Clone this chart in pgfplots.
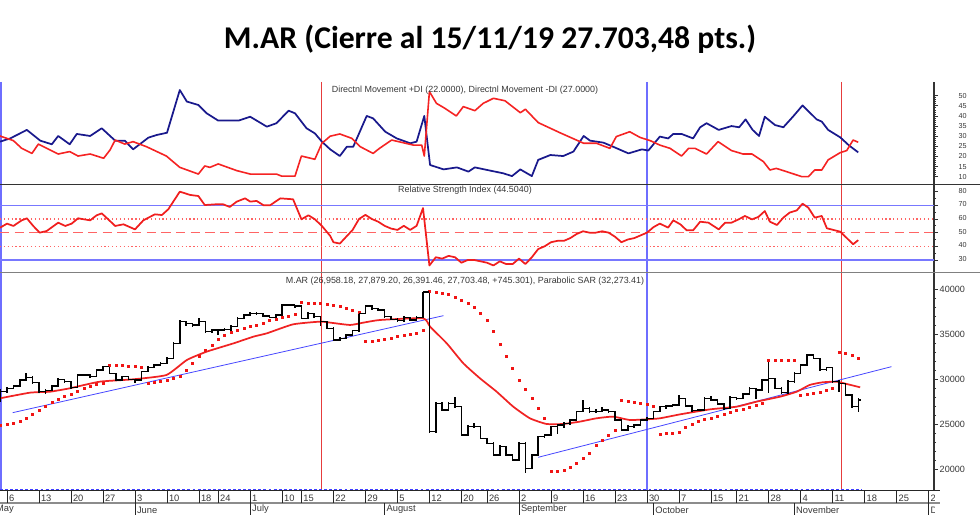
\documentclass[border=0pt]{standalone}
\usepackage{fontspec}
\setmainfont{Liberation Sans}
\newfontfamily\titlefont{Carlito}
\usepackage{pgfplots}
\usepackage{pgfplotstable}
\pgfplotsset{compat=1.18}

\definecolor{diplus}{RGB}{25,25,140}
\definecolor{diminus}{RGB}{245,35,35}
\definecolor{rsired}{RGB}{240,30,30}
\definecolor{refblue}{RGB}{120,120,255}
\definecolor{refred}{RGB}{255,100,100}
\definecolor{trendblue}{RGB}{70,70,255}
\definecolor{cycred}{RGB}{230,60,60}
\definecolor{cycblue}{RGB}{110,110,255}
\definecolor{labgray}{RGB}{55,55,55}
\definecolor{sarred}{RGB}{240,20,20}
\definecolor{marred}{RGB}{240,35,35}

\pgfdeclareplotmark{lt}{\pgfpathmoveto{\pgfqpoint{-2.4pt}{0pt}}\pgfpathlineto{\pgfqpoint{0pt}{0pt}}\pgfusepathqstroke}
\pgfdeclareplotmark{rt}{\pgfpathmoveto{\pgfqpoint{0pt}{0pt}}\pgfpathlineto{\pgfqpoint{2.4pt}{0pt}}\pgfusepathqstroke}

\pgfplotstableread{
i v
-1.1 27.3
0.5 28.9
3.1 33.1
5.2 27.8
7.0 26.0
8.0 30.1
9.8 26.0
10.9 31.1
13.0 30.1
14.8 33.9
16.9 27.8
18.4 27.8
19.7 23.5
22.1 29.3
23.4 30.6
25.0 31.7
27.0 52.8
28.1 47.1
29.9 45.4
31.2 41.3
33.0 37.7
36.2 37.7
38.0 39.6
40.6 34.7
42.1 36.4
44.0 42.6
45.0 41.3
46.8 33.9
48.1 31.4
49.2 27.3
50.5 23.5
52.0 20.2
53.1 24.8
54.1 24.8
56.2 40.0
57.2 38.8
59.1 32.2
60.9 28.9
63.0 26.5
64.0 27.3
65.2 40.0
66.1 15.8
68.2 13.6
70.3 14.6
72.1 12.5
73.1 14.6
75.5 13.0
77.5 11.7
78.9 10.3
80.2 13.6
82.0 10.3
83.0 18.3
84.9 20.7
86.9 20.2
88.5 22.4
90.1 30.1
91.1 27.8
93.2 26.8
94.7 24.8
97.1 21.5
99.2 23.5
100.2 22.9
102.0 29.8
103.3 28.9
104.1 31.1
105.4 31.1
107.2 28.9
108.3 34.4
109.3 36.4
111.2 33.1
113.2 35.0
114.4 34.4
115.4 38.3
116.5 33.1
117.5 30.1
118.4 39.6
120.0 35.5
121.3 34.4
122.9 40.0
124.3 45.2
126.5 38.3
127.3 37.2
128.3 33.1
130.2 29.4
131.5 25.6
133.0 22.0
}\diplus

\pgfplotstableread{
i v
-1.1 30.1
1.0 27.8
2.3 24.0
3.9 21.5
4.9 26.1
8.0 21.2
9.8 22.4
11.1 20.2
13.0 21.2
15.1 19.1
16.1 23.2
16.9 28.1
18.4 26.1
19.7 27.3
21.8 24.8
24.9 20.2
27.0 14.6
29.9 11.3
30.9 15.3
31.7 14.6
33.0 16.3
35.9 13.0
38.0 11.3
42.1 11.3
42.9 10.3
45.0 10.3
46.0 20.2
48.1 18.6
49.2 26.5
50.5 30.0
52.0 31.1
53.9 28.9
55.2 24.8
57.2 21.5
58.2 24.0
60.1 28.1
63.5 25.6
64.8 25.6
65.2 20.2
66.0 52.0
67.1 46.2
68.4 43.8
70.2 40.0
71.3 44.6
73.1 42.6
74.4 46.2
76.0 48.7
77.8 47.5
80.2 41.6
81.0 43.3
83.0 36.7
86.4 31.7
90.1 26.5
92.1 26.5
94.2 24.0
95.2 29.8
97.3 32.2
98.9 29.4
100.5 27.8
102.0 25.6
103.6 24.0
105.4 20.2
106.5 24.0
107.5 24.0
109.3 21.2
111.1 27.3
113.2 22.9
115.0 21.2
116.4 21.2
118.2 17.4
119.2 13.3
120.2 14.1
121.8 12.5
124.2 10.0
125.2 10.0
126.2 13.3
127.3 13.3
128.3 18.3
130.2 21.9
131.2 22.9
132.2 28.1
133.0 27.0
}\diminus

\pgfplotstableread{
i v
-1.1 53.6
0 56.6
1 54.9
2.3 59.0
3.1 60.5
4.1 54.9
5.1 50.0
6.2 51.2
8.0 57.3
9.1 54.9
10.1 56.6
11.1 60.5
13.0 59.0
14.0 62.7
14.8 64.1
15.8 59.8
16.9 54.9
18.2 56.1
20.0 52.4
21.3 59.0
23.1 63.4
24.2 62.9
25.2 67.1
27.0 80.0
28.6 77.6
29.9 76.8
30.9 70.2
32.5 70.7
33.8 70.7
34.8 68.8
35.9 72.7
37.2 75.1
38.0 72.7
39.0 73.2
40.1 70.0
41.1 70.0
42.7 75.1
44.7 74.4
46.0 59.8
47.1 62.7
48.1 59.8
49.2 54.9
50.5 47.6
51 43
52 42
53 47
54 52
55 60
56 63
57 60
58 58
59 55
60 53
61 52
62 55
63 52
64 55
65 68
66 26
67 32
68 31
69 33
70 32
71 28
72 30
73 30
74 29
75 28
76 26
77 29
78 27
79 27
80 31
81 27
82 32
83 38
84 40
85 43
86 44
87 44
88 46
89 49
90 51
91 50
92 50
93 51
94 50
95 47
96 43
97 45
98 46
99 48
100 50
101 54
102.0 56.6
103.3 53.7
104.1 59.0
105.2 56.1
106.2 51.7
107.2 51.7
108.3 58.0
109.6 57.3
111.2 52.4
112.2 57.3
113.2 57.3
114.3 59.7
115.3 62.2
116.4 59.7
117.4 61.5
118.4 65.8
119.2 58.0
120.3 55.6
121.3 61.0
122.3 64.7
123.4 66.3
124.3 71.2
125.2 68.3
126.2 61.0
127.3 62.2
128.1 53.2
130.2 50.7
132.2 41.5
133.0 44.5
}\rsi

\pgfplotstableread{
i o h l c
-1 28700 28900 27500 28600
0 28600 29150 28500 28980
1 28980 29400 28850 29240
2 29240 30050 29150 29900
3 29900 30700 29800 30200
4 30200 30300 29500 29600
5 29600 29700 28450 28600
6 28600 28900 28400 28720
7 28720 29400 28650 29240
8 29240 30100 29150 29980
9 29980 30050 29600 29720
10 29720 29800 28950 29090
11 29090 30600 29000 30460
12 30460 30600 30300 30460
13 30460 30550 30150 30280
14 30280 31150 30200 31020
15 31020 31500 30900 31390
16 31390 31450 30550 30650
17 30650 30700 29800 29900
18 29900 30400 29800 30280
19 30280 30350 29850 29980
20 29980 30050 29550 29900
21 29900 30950 29800 30830
22 30830 31450 30750 31315
23 31315 31700 31200 31570
24 31570 31900 31450 31760
25 31760 32450 31650 32320
26 32320 34100 32200 33985
27 33985 36550 33900 36400
28 36400 36500 35900 36210
29 36210 36300 35800 36025
30 36025 36800 35950 36400
31 36400 36450 35100 35285
32 35285 35600 35150 35470
33 35470 35600 34950 35470
34 35470 35700 35350 35540
35 35540 36000 35300 35840
36 35840 36900 35750 36770
37 36770 37300 36650 37140
38 37140 37450 37000 37325
39 37325 37450 37150 37325
40 37325 37400 36900 37030
41 37030 37100 36750 36880
42 36880 37250 36800 37140
43 37140 38400 37050 38250
44 38250 38400 38100 38250
45 38250 38300 37950 38140
46 38140 38200 36650 36770
47 36770 37450 36650 37325
48 37325 37400 36850 36955
49 36955 37050 35950 36400
50 36400 36450 35550 35655
51 35655 35750 34250 34360
52 34360 34650 34200 34540
53 34540 35000 34450 34910
54 34910 35500 34800 35395
55 35395 37450 35300 37325
56 37325 38300 37200 38140
57 38140 38200 37750 37880
58 37880 37950 37550 37700
59 37700 37750 36850 36955
60 36955 37050 36550 36660
61 36660 36750 36400 36510
62 36510 37000 36400 36880
63 36880 36950 36450 36580
64 36580 37000 36450 36880
65 36880 39750 36750 39700
66 39700 39750 24000 24155
67 24155 27500 24050 27300
68 27300 27400 26450 26570
69 26570 27450 26450 27300
70 27300 28050 26850 26935
71 26935 27050 23650 23780
72 23780 24850 23700 24710
73 24710 25100 24600 24710
74 24710 24800 23300 23410
75 23410 23500 22750 22855
76 22855 22950 21450 21560
77 21560 22650 21450 22485
78 22485 22550 21450 21560
79 21560 21650 20900 21000
80 21000 22950 20900 22855
81 22855 22950 19600 20075
82 20075 21650 19950 21560
83 21560 23700 21450 23600
84 23600 23900 23500 23780
85 23780 24800 23700 24710
86 24710 25000 23900 24900
87 24900 25200 24600 25080
88 25080 25550 24950 25450
89 25450 26500 25350 26380
90 26380 27680 26300 26750
91 26750 26850 26250 26380
92 26380 26700 26250 26380
93 26380 26850 26300 26570
94 26570 26650 26250 26380
95 26380 26450 25350 25450
96 25450 25550 24200 24340
97 24340 24850 24250 24710
98 24710 25050 24600 24900
99 24900 25600 24800 25450
100 25450 25750 25350 25640
101 25640 26500 25550 26380
102 26380 27050 26300 26935
103 26935 27100 26700 27010
104 27010 27250 26900 27120
105 27120 28250 27000 27865
106 27865 27950 26900 27010
107 27010 27100 26350 26490
108 26490 26700 26450 26570
109 26570 28000 26450 27865
110 27865 28100 27550 27680
111 27680 27750 27100 27235
112 27235 27300 26600 26750
113 26750 28100 26650 27975
114 27975 28050 27700 27865
115 27865 28450 27750 28345
116 28345 29150 28250 28980
117 28980 29050 27750 28790
118 28790 30050 28700 29905
119 29905 32200 28500 30090
120 30090 30150 28900 28980
121 28980 29100 28400 28500
122 28500 29850 28400 29720
123 29720 30750 29600 30650
124 30650 31700 30550 31575
125 31575 32800 31450 32690
126 32690 32750 32200 32320
127 32320 32400 30950 31090
128 31090 31400 30950 31315
129 31315 31400 29600 29720
130 29720 29850 28600 29535
131 29535 29600 28100 28235
132 28235 28350 26800 26935
133 26958 27879 26391 27703
}\ohlc

\pgfplotstableread{
i v
-1.1 27865
3.6 28495
6.7 28600
9.8 28980
14.5 29720
19.7 29980
24.9 30460
28.1 32130
31.2 33060
35.4 33985
38.5 34730
40.6 35100
44.7 36100
48.9 36400
50.5 36290
53.6 36030
55.7 36290
58.3 36585
65.0 36770
66.1 35840
68.7 33990
71.3 31760
73.9 30090
76.5 28605
79.1 26935
81.7 25640
84.3 25010
86.9 25010
89.5 25270
92.1 25640
94.7 25825
97.3 25455
100.0 25530
102.0 25640
105.2 26085
109.9 26640
114.0 26935
117.1 27490
120.8 28050
123.4 28605
125.4 29350
127.4 29645
129.6 29720
131.2 29460
133.3 29090
}\mavg

\pgfplotstableread{
i v
-1 24900
0 24950
1 25050
2 25270
3 25600
4 26100
5 26570
6 27000
7 27450
8 27800
9 28100
10 28350
11 28700
12 29000
13 29200
14 29400
15 29550
16 31575
17 31550
18 31500
19 31450
20 31400
21 31315
22 29535
23 29650
24 29780
25 29900
26 30100
27 30280
28 31020
29 31800
30 32500
31 33200
32 33800
33 34400
34 34850
35 35200
36 35450
37 35650
38 35840
39 36050
40 36250
41 36500
42 36700
43 36900
44 37050
45 37200
46 38510
47 38480
48 38440
49 38400
50 38360
51 38250
52 38100
53 37880
54 37650
55 37400
56 34170
57 34250
58 34350
59 34450
60 34600
61 34730
62 34850
63 35000
64 35150
65 35400
66 39735
67 39700
68 39600
69 39400
70 39100
71 38800
72 38400
73 37950
74 37300
75 36500
76 35300
77 33900
78 32600
79 31200
80 29900
81 28900
82 27900
83 26800
84 25700
85 19700
86 19750
87 19900
88 20200
89 20600
90 21200
91 21800
92 22600
93 23200
94 23800
95 24340
96 27680
97 27550
98 27420
99 27300
100 27150
101 27000
102 23900
103 23950
104 24000
105 24100
106 24600
107 25000
108 25300
109 25500
110 25700
111 25900
112 26100
113 26300
114 26500
115 26700
116 26900
117 27100
118 27300
119 32130
120 32130
121 32130
122 32130
123 32050
124 28200
125 28280
126 28400
127 28550
128 28750
129 28980
130 32950
131 32850
132 32650
133 32273
}\sar

\pgfplotstableread{
i v
0.9 26270
68.2 37065
}\trendA
\pgfplotstableread{
i v
83.0 21300
138.2 31390
}\trendB

\pgfplotsset{
  panel/.style={
    scale only axis, width=700.5pt,
    xmin=-1.094, xmax=144.84,
    axis x line=none, axis y line*=right,
    axis line style={black!80, line width=0.8pt},
    tick align=outside,
    major tick length=3pt, minor tick length=1.6pt,
    every tick/.style={black!80, line width=0.5pt},
    yticklabel style={anchor=west, inner sep=0pt, text=labgray},
    anchor=north west,
  }
}

\begin{document}
\begin{tikzpicture}[x=0.75pt,y=0.75pt]
\path[use as bounding box] (0,0) rectangle (980,530);

\node[font=\titlefont\bfseries\fontsize{23.75}{28}\selectfont, anchor=base] at (490,481) {M.AR (Cierre al 15/11/19 27.703,48 pts.)};

% cycle lines
\draw[cycblue, line width=1pt] (1,448) -- (1,39.3);
\draw[cycblue, line width=1pt] (647,448) -- (647,39.3);
\draw[cycred, line width=0.7pt] (321,448) -- (321,39.3);
\draw[cycred, line width=0.7pt] (841,448) -- (841,39.3);

% ---------------- DMI panel
\begin{axis}[panel, at={(0pt,336pt)}, height=76.725pt,
  ymin=6.25, ymax=56.76, ytick={10,15,...,50}, minor y tick num=4,
  yticklabels={}]
\addplot[diplus, line width=1.3pt, line join=round] table[x=i,y=v] {\diplus};
\addplot[diminus, line width=1.2pt, line join=round] table[x=i,y=v] {\diminus};
\end{axis}

% ---------------- RSI panel
\begin{axis}[panel, at={(0pt,258.525pt)}, height=66.3pt,
  ymin=19.97, ymax=84.65, ytick={30,40,...,80}, minor y tick num=1,
  yticklabels={}]
\addplot[refblue, line width=1pt, domain=-1.094:144.84, samples=2] {70};
\addplot[refblue, line width=1pt, domain=-1.094:144.84, samples=2] {30};
\addplot[refred, line width=0.9pt, dotted, domain=-1.094:144.84, samples=2] {60};
\addplot[refred, line width=0.9pt, dotted, domain=-1.094:144.84, samples=2] {40};
\addplot[refred, line width=0.9pt, dash pattern=on 7pt off 4pt, domain=-1.094:144.84, samples=2] {50};
\addplot[rsired, line width=1.3pt, line join=round] table[x=i,y=v] {\rsi};
\end{axis}

% ---------------- Price panel
\begin{axis}[panel, at={(0pt,192.975pt)}, height=163.5pt,
  ymin=17584, ymax=41847, ytick={20000,25000,...,40000}, minor y tick num=4,
  scaled y ticks=false,
  yticklabel={\makebox[20pt][r]{\fontsize{6.8}{8}\selectfont\pgfmathprintnumber[assume math mode=true, 1000 sep={}]{\tick}}}]
\addplot[trendblue, line width=0.6pt] table[x=i,y=v] {\trendA};
\addplot[trendblue, line width=0.6pt] table[x=i,y=v] {\trendB};
\addplot[marred, line width=1.3pt, smooth, tension=0.3] table[x=i,y=v] {\mavg};
\addplot[only marks, mark=square*, mark size=0.75pt, sarred, mark options={draw=none, fill=sarred}] table[x=i,y=v] {\sar};
\addplot[draw=none, mark=none, error bars/.cd, y dir=both, y explicit,
  error bar style={draw=black, line width=1.1pt}, error mark=none]
  table[x=i, y=c, y error plus expr=\thisrow{h}-\thisrow{c}, y error minus expr=\thisrow{c}-\thisrow{l}] {\ohlc};
\addplot[only marks, mark=lt, mark options={black, line width=1.1pt}] table[x=i,y=o] {\ohlc};
\addplot[only marks, mark=rt, mark options={black, line width=1.1pt}] table[x=i,y=c] {\ohlc};
\end{axis}

% right-hand value labels of the two upper panels
\foreach \v in {10,15,...,50}
  \node[anchor=east, inner sep=0pt, font=\fontsize{5.4}{6}\selectfont, text=labgray] at (967,{530-(82+(56.76-\v)*2.02534)}) {\v};
\foreach \v in {30,40,...,80}
  \node[anchor=east, inner sep=0pt, font=\fontsize{5.4}{6}\selectfont, text=labgray] at (967,{530-(184.3+(84.65-\v)*1.36673)}) {\v};

% panel labels
\node[font=\fontsize{6.7}{8}\selectfont, text=labgray] at (465,440) {Directnl Movement +DI (22.0000), Directnl Movement -DI (27.0000)};
\node[font=\fontsize{6.7}{8}\selectfont, text=labgray] at (465,340) {Relative Strength Index (44.5040)};
\node[font=\fontsize{6.7}{8}\selectfont, text=labgray] at (465,249) {M.AR (26,958.18, 27,879.20, 26,391.46, 27,703.48, +745.301), Parabolic SAR (32,273.41)};

% separators
\draw[black!80, line width=0.8pt] (0,345.7) -- (980,345.7);
\draw[black!50, line width=0.9pt] (0,257.3) -- (980,257.3);
\draw[black!85, line width=0.8pt] (0,39.3) -- (940,39.3);
\draw[blue!75, line width=0.7pt, dash pattern=on 2.2pt off 1.6pt] (0,40.3) -- (862,40.3);
\draw[black!45, line width=1.2pt] (0,27) -- (940,27);

\begin{scope}
\clip (0,0) rectangle (934.5,40);
% week row
\begin{axis}[scale only axis, width=700.5pt, height=9.225pt, at={(0pt,29.475pt)}, anchor=north west,
  xmin=-1.094, xmax=144.84, ymin=0, ymax=1, ytick=\empty,
  axis line style={draw=none}, major tick length=0pt,
  xtick={0,5,10,15,20,25,30,33,38,43,46,51,56,61,66,71,75,80,85,90,95,100,105,110,114,119,124,129,134,139,144},
  xticklabels={6,13,20,27,3,10,18,24,1,10,15,22,29,5,12,20,26,2,9,16,23,30,7,15,21,28,4,11,18,25,2},
  xmajorgrids, major grid style={black!85, line width=0.7pt},
  xticklabel style={anchor=south west, inner sep=0pt, xshift=1.3pt, yshift=1.2pt, font=\fontsize{7}{8}\selectfont, text=labgray}]
\end{axis}
% month row
\begin{axis}[scale only axis, width=707.25pt, height=9pt, at={(-6.75pt,20.25pt)}, anchor=north west,
  xmin=-2.5, xmax=144.84, ymin=0, ymax=1, ytick=\empty,
  axis line style={draw=none}, major tick length=0pt,
  xtick={-2,20,38,59,80,101,123,144},
  xticklabels={May,June,July,August,September,October,November,December},
  xmajorgrids, major grid style={black!85, line width=0.7pt},
  xticklabel style={anchor=south west, inner sep=0pt, xshift=1.3pt, yshift=0.8pt, font=\fontsize{7}{8}\selectfont, text=labgray}]
\end{axis}
\end{scope}
\end{tikzpicture}
\end{document}
